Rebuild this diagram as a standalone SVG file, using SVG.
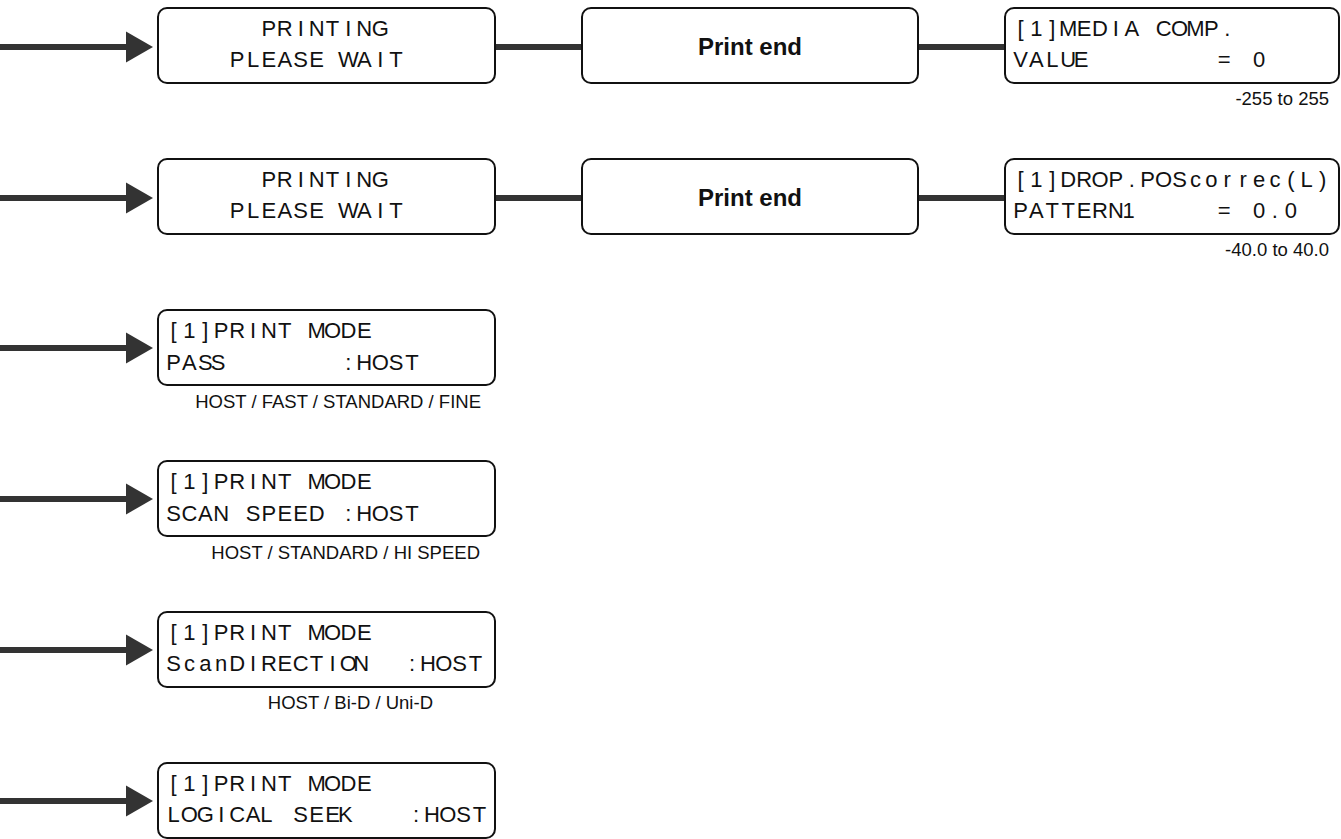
<svg xmlns="http://www.w3.org/2000/svg" width="1341" height="839" viewBox="0 0 1341 839">
<style>
  .box{fill:#fff;stroke:#111;stroke-width:2}
  .lcd{font-family:"Liberation Sans",Arial,sans-serif;font-size:22px;fill:#111;text-anchor:middle}
  .lbl{font-family:"Liberation Sans",Arial,sans-serif;font-size:24px;font-weight:bold;fill:#111;text-anchor:middle}
  .rng{font-family:"Liberation Sans",Arial,sans-serif;font-size:18.5px;fill:#111;text-anchor:end}
  .conn{stroke:#333;stroke-width:6;fill:none}
  .head{fill:#333}
</style>
<defs>
  <polygon id="ah" class="head" points="126,-15.5 153,0 126,15.5"/>
</defs>

<g id="connectors">
  <line class="conn" x1="0" y1="47" x2="128" y2="47"/>
  <use href="#ah" y="47"/>
  <line class="conn" x1="495" y1="47" x2="582" y2="47"/>
  <line class="conn" x1="918" y1="47" x2="1005" y2="47"/>

  <line class="conn" x1="0" y1="198" x2="128" y2="198"/>
  <use href="#ah" y="198"/>
  <line class="conn" x1="495" y1="198" x2="582" y2="198"/>
  <line class="conn" x1="918" y1="198" x2="1005" y2="198"/>

  <line class="conn" x1="0" y1="348" x2="128" y2="348"/>
  <use href="#ah" y="348"/>
  <line class="conn" x1="0" y1="499" x2="128" y2="499"/>
  <use href="#ah" y="499"/>
  <line class="conn" x1="0" y1="650" x2="128" y2="650"/>
  <use href="#ah" y="650"/>
  <line class="conn" x1="0" y1="801" x2="128" y2="801"/>
  <use href="#ah" y="801"/>
</g>

<g id="printing1">
  <rect class="box" x="158" y="8" width="337" height="75" rx="9"/>
  <text class="lcd" y="35.5" x="268.9 284.8 300.7 316.6 332.5 348.4 364.3 380.2">PRINTING</text>
  <text class="lcd" y="66.5" x="237.1 253 268.9 284.8 300.7 316.6 332.5 348.4 364.3 380.2 396.1">PLEASE WAIT</text>
</g>
<g id="printend1">
  <rect class="box" x="582" y="8" width="336" height="75" rx="9"/>
  <text class="lbl" x="750" y="54.5">Print end</text>
</g>
<g id="mediacomp">
  <rect class="box" x="1005" y="8" width="334" height="75" rx="9"/>
  <text class="lcd" y="35.5" x="1020.5 1036.4 1052.3 1068.2 1084.1 1100 1115.9 1131.8 1147.7 1163.6 1179.5 1195.4 1211.3 1227.2">[1]MEDIA COMP.</text>
  <text class="lcd" y="66.5"><tspan x="1020.5 1036.4 1052.3 1068.2 1084.1">VALUE</tspan> <tspan x="1227.2">=</tspan> <tspan x="1259">0</tspan></text>
  <text class="rng" x="1329" y="105">-255 to 255</text>
</g>

<g id="printing2">
  <rect class="box" x="158" y="159" width="337" height="75" rx="9"/>
  <text class="lcd" y="186.5" x="268.9 284.8 300.7 316.6 332.5 348.4 364.3 380.2">PRINTING</text>
  <text class="lcd" y="217.5" x="237.1 253 268.9 284.8 300.7 316.6 332.5 348.4 364.3 380.2 396.1">PLEASE WAIT</text>
</g>
<g id="printend2">
  <rect class="box" x="582" y="159" width="336" height="75" rx="9"/>
  <text class="lbl" x="750" y="205.5">Print end</text>
</g>
<g id="dropposcorrec">
  <rect class="box" x="1005" y="159" width="334" height="75" rx="9"/>
  <text class="lcd" y="186.5" x="1020.5 1036.4 1052.3 1068.2 1084.1 1100 1115.9 1131.8 1147.7 1163.6 1179.5 1195.4 1211.3 1227.2 1243.1 1259 1274.9 1290.8 1306.7 1322.6">[1]DROP.POScorrec(L)</text>
  <text class="lcd" y="217.5"><tspan x="1020.5 1036.4 1052.3 1068.2 1084.1 1100 1115.9 1131.8">PATTERN1</tspan> <tspan x="1227.2">=</tspan> <tspan x="1259 1274.9 1290.8">0.0</tspan></text>
  <text class="rng" x="1329" y="256">-40.0 to 40.0</text>
</g>

<g id="pass">
  <rect class="box" x="158" y="310" width="337" height="75" rx="9"/>
  <text class="lcd" y="338" x="173.5 189.4 205.3 221.2 237.1 253 268.9 284.8 300.7 316.6 332.5 348.4 364.3">[1]PRINT MODE</text>
  <text class="lcd" y="369.5"><tspan x="173.5 189.4 205.3 221.2">PASS</tspan> <tspan x="348.4 364.3 380.2 396.1 412">:HOST</tspan></text>
  <text class="rng" x="481" y="408">HOST / FAST / STANDARD / FINE</text>
</g>

<g id="scanspeed">
  <rect class="box" x="158" y="461" width="337" height="75" rx="9"/>
  <text class="lcd" y="489" x="173.5 189.4 205.3 221.2 237.1 253 268.9 284.8 300.7 316.6 332.5 348.4 364.3">[1]PRINT MODE</text>
  <text class="lcd" y="520.5" x="173.5 189.4 205.3 221.2 237.1 253 268.9 284.8 300.7 316.6 332.5 348.4 364.3 380.2 396.1 412">SCAN SPEED :HOST</text>
  <text class="rng" x="480" y="559">HOST / STANDARD / HI SPEED</text>
</g>

<g id="scandirection">
  <rect class="box" x="158" y="612" width="337" height="75" rx="9"/>
  <text class="lcd" y="640" x="173.5 189.4 205.3 221.2 237.1 253 268.9 284.8 300.7 316.6 332.5 348.4 364.3">[1]PRINT MODE</text>
  <text class="lcd" y="671"><tspan x="173.5 189.4 205.3 221.2 237.1 253 268.9 284.8 300.7 316.6 332.5 348.4 364.3">ScanDIRECTION</tspan> <tspan x="412 427.9 443.8 459.7 475.6">:HOST</tspan></text>
  <text class="rng" x="433" y="709">HOST / Bi-D / Uni-D</text>
</g>

<g id="logicalseek">
  <rect class="box" x="158" y="763" width="337" height="75" rx="9"/>
  <text class="lcd" y="791" x="173.5 189.4 205.3 221.2 237.1 253 268.9 284.8 300.7 316.6 332.5 348.4 364.3">[1]PRINT MODE</text>
  <text class="lcd" y="822"><tspan x="173.5 189.4 205.3 221.2 237.1 253 268.9">LOGICAL</tspan> <tspan x="300.7 316.6 332.5 348.4">SEEK</tspan> <tspan x="416 431.9 447.8 463.7 479.6">:HOST</tspan></text>
</g>
</svg>
